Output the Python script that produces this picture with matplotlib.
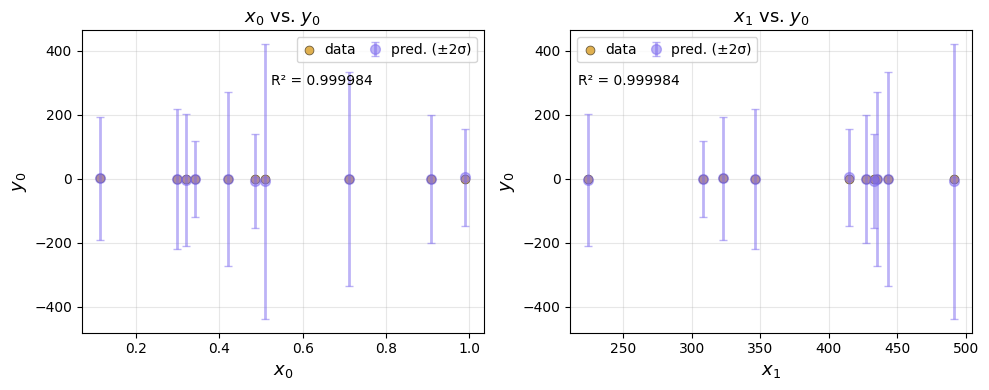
import numpy as np
import matplotlib.pyplot as plt

x0 = [0.113, 0.297, 0.319, 0.341, 0.420, 0.485, 0.509, 0.712, 0.907, 0.991]
x1 = [323.0, 346.0, 224.5, 308.4, 435.5, 433.0, 491.5, 443.3, 427.5, 414.9]
y0 = [1.0, 0.5, -1.0, -0.5, 0.0, 0.5, 0.5, -0.5, -0.5, 0.5]
y_pred = [1.5, 0.0, -4.0, -2.0, 0.0, -8.0, -8.5, -1.5, -0.5, 4.0]
y_err = [192, 219, 206, 119, 273, 147, 430, 334, 201, 152]  # 2 sigma
r2 = 0.999984

fig, axes = plt.subplots(1, 2, figsize=(9.89, 3.9), dpi=100)
for i, (ax, xv) in enumerate(zip(axes, [x0, x1])):
    ax.scatter(xv, y0, s=40, color='#e0b04f', edgecolors='#6b5a3a', linewidths=0.6,
               label='data', zorder=2)
    ax.errorbar(xv, y_pred, yerr=y_err, fmt='o', color='mediumslateblue', alpha=0.5,
                ms=7, capsize=3, elinewidth=2, label='pred. (±2σ)', zorder=3)
    ax.set_xlabel(f'$x_{i}$', fontsize=13)
    ax.set_ylabel('$y_0$', fontsize=13)
    ax.set_title(f'$x_{i}$ vs. $y_0$', fontsize=13)
    ax.grid(True, alpha=0.3)
    ax.legend(ncol=2, loc='upper right' if i == 0 else 'upper left',
              handlelength=1.0, handletextpad=0.6, columnspacing=0.9, borderpad=0.4)
axes[0].text(0.47, 0.82, f'R² = {r2:.6f}', transform=axes[0].transAxes, fontsize=10)
axes[1].text(0.02, 0.82, f'R² = {r2:.6f}', transform=axes[1].transAxes, fontsize=10)
plt.subplots_adjust(left=0.0826, right=0.9831, bottom=0.147, top=0.9223, wspace=0.215)
plt.savefig('out.png')
